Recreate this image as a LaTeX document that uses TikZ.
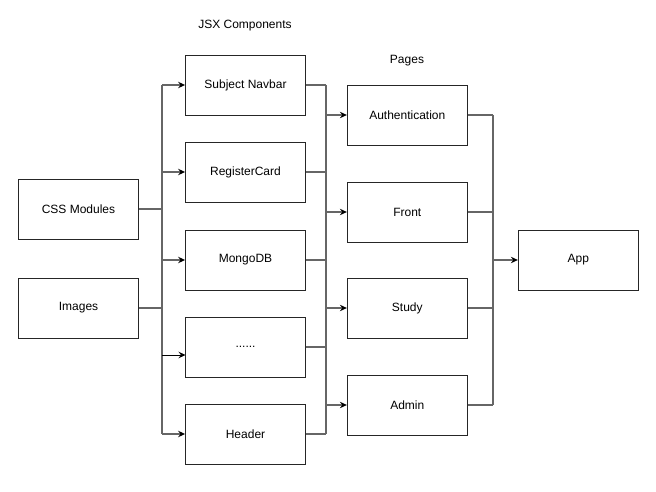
\documentclass[tikz,border=0pt]{standalone}
\usepackage{fontspec}
\setmainfont{Liberation Sans}
\usetikzlibrary{arrows.meta,calc}
\begin{document}
\begin{tikzpicture}[x=1pt,y=-1pt,
  box/.style={draw=black!85,line width=0.9pt,minimum width=120pt,minimum height=60pt,inner sep=0pt,font=\fontsize{12}{14}\selectfont,fill=white},
  lbl/.style={font=\fontsize{12}{14}\selectfont,inner sep=0pt},
  conn/.style={draw=black!60,line width=1.1pt},
  arr/.style={conn,-{Stealth[length=7pt,width=6.5pt,inset=2.5pt,color=black]}},
  thin/.style={draw=black,line width=0.8pt,-{Stealth[length=7pt,width=6.5pt,inset=2.5pt,color=black]}}]
\useasboundingbox (0,0) rectangle (656,492);
\fill[white] (0,0) rectangle (656,492);
% left boxes
\node[box] (css) at (78.5,209) {CSS Modules};
\node[box] (img) at (78.5,308) {Images};
% JSX
\node[lbl] (jsxl) at (245,26) {JSX Components};
\node[box] (nav) at (245.5,85) {Subject Navbar};
\node[box] (reg) at (245.5,172) {RegisterCard};
\node[box] (mongo) at (245.5,260) {MongoDB};
\node[box] (dots) at (245.5,347) {......};
\node[box] (head) at (245.5,434) {Header};
% Pages
\node[lbl] (pagl) at (407,61) {Pages};
\node[box] (auth) at (407.3,115) {Authentication};
\node[box] (front) at (407.3,212) {Front};
\node[box] (study) at (407.3,308) {Study};
\node[box] (admin) at (407.3,405) {Admin};
% App
\node[box] (app) at (578.3,260) {App};
% bus coordinates
\coordinate (L) at (162,0);
\coordinate (R) at (326,0);
\coordinate (Q) at (493,0);
\coordinate (dotsin) at (185.5,355);
% left bus
\draw[conn] (css.east) -- (css.east -| L);
\draw[conn] (img.east) -- (img.east -| L);
\draw[conn] (nav.west -| L) -- (head.west -| L);
\draw[arr] (nav.west -| L) -- (nav.west);
\draw[arr] (reg.west -| L) -- (reg.west);
\draw[arr] (mongo.west -| L) -- (mongo.west);
\draw[thin] (dotsin -| L) -- (dotsin);
\draw[arr] (head.west -| L) -- (head.west);
% right bus
\draw[conn] (nav.east) -- (nav.east -| R);
\draw[conn] (reg.east) -- (reg.east -| R);
\draw[conn] (mongo.east) -- (mongo.east -| R);
\draw[conn] (dots.east) -- (dots.east -| R);
\draw[conn] (head.east) -- (head.east -| R);
\draw[conn] (nav.east -| R) -- (head.east -| R);
\draw[arr] (auth.west -| R) -- (auth.west);
\draw[arr] (front.west -| R) -- (front.west);
\draw[arr] (study.west -| R) -- (study.west);
\draw[arr] (admin.west -| R) -- (admin.west);
% pages bus
\draw[conn] (auth.east) -- (auth.east -| Q);
\draw[conn] (front.east) -- (front.east -| Q);
\draw[conn] (study.east) -- (study.east -| Q);
\draw[conn] (admin.east) -- (admin.east -| Q);
\draw[conn] (auth.east -| Q) -- (admin.east -| Q);
\draw[arr] (app.west -| Q) -- (app.west);
\end{tikzpicture}
\end{document}
